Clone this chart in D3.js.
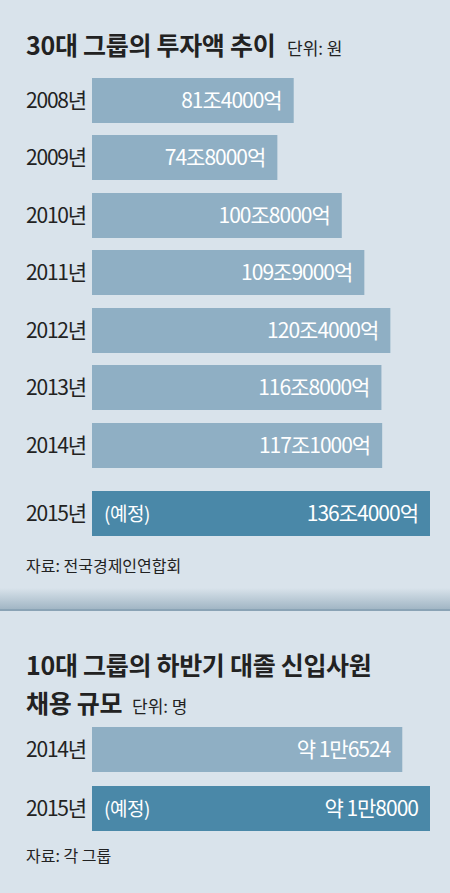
<!DOCTYPE html><html><head><meta charset="utf-8">
<script src="https://cdn.jsdelivr.net/npm/d3@7"></script>
<style>body{margin:0;background:#d9e3eb}text{font-family:"Noto Sans CJK KR",sans-serif}</style></head><body>
<svg id="c" width="450" height="893"></svg>
<script>
const years1=["2008년","2009년","2010년","2011년","2012년","2013년","2014년","2015년"];
const values1=[81.4,74.8,100.8,109.9,120.4,116.8,117.1,136.4];
const labels1=["81조4000억","74조8000억","100조8000억","109조9000억","120조4000억","116조8000억","117조1000억","136조4000억"];
const years2=["2014년","2015년"];
const values2=[16524,18000];
const labels2=["약 1만6524","약 1만8000"];
const svg=d3.select("#c");
const light="#8fafc4",dark="#4a88a8";
svg.append("rect").attr("width",450).attr("height",893).attr("fill","#d9e3eb");
const g=svg.append("defs").append("linearGradient").attr("id","gr").attr("x1",0).attr("x2",0).attr("y1",0).attr("y2",1);
g.append("stop").attr("offset",0).attr("stop-color","#d9e3eb");
g.append("stop").attr("offset",1).attr("stop-color","#9fb4c3");
svg.append("rect").attr("y",588).attr("width",450).attr("height",22).attr("fill","url(#gr)");
svg.append("rect").attr("y",609).attr("width",450).attr("height",2).attr("fill","#8aa3b5");
function title(x,y,t,s,w,ls){svg.append("text").attr("x",x).attr("y",y).attr("font-size",s).attr("font-weight",w).attr("fill","#222").attr("letter-spacing",ls).text(t);}
title(26,55,"30대 그룹의 투자액 추이",25,"bold",-0.3);
title(287,55,"단위: 원",17,"normal",0);
title(26,572,"자료: 전국경제인연합회",16,"normal",0);
title(26,675,"10대 그룹의 하반기 대졸 신입사원",25,"bold",-0.3);
title(26,713,"채용 규모",25,"bold",-0.3);
title(132,713,"단위: 명",17,"normal",0);
title(26,862,"자료: 각 그룹",16,"normal",0);
function chart(years,vals,labels,max,ys,xEnd){
 const x=d3.scaleLinear().domain([0,max]).range([92,xEnd]);
 years.forEach((yr,i)=>{
  const y=ys[i],last=i===years.length-1;
  svg.append("rect").attr("x",x(0)).attr("y",y).attr("width",x(vals[i])-x(0)).attr("height",45).attr("fill",last?dark:light);
  svg.append("text").attr("x",26).attr("y",y+30).attr("font-size",21).attr("letter-spacing",-1.2).attr("fill","#222").text(yr);
  svg.append("text").attr("x",x(vals[i])-12).attr("y",y+30).attr("text-anchor","end").attr("font-size",21).attr("letter-spacing",-1).attr("fill","#fff").text(labels[i]);
  if(last) svg.append("text").attr("x",104).attr("y",y+30).attr("font-size",19).attr("fill","#fff").attr("letter-spacing",-0.5).text("(예정)");
 });
}
chart(years1,values1,labels1,136.4,[78,135,193,250,308,365,423,491],430);
chart(years2,values2,labels2,18000,[727,786],430);
</script></body></html>
